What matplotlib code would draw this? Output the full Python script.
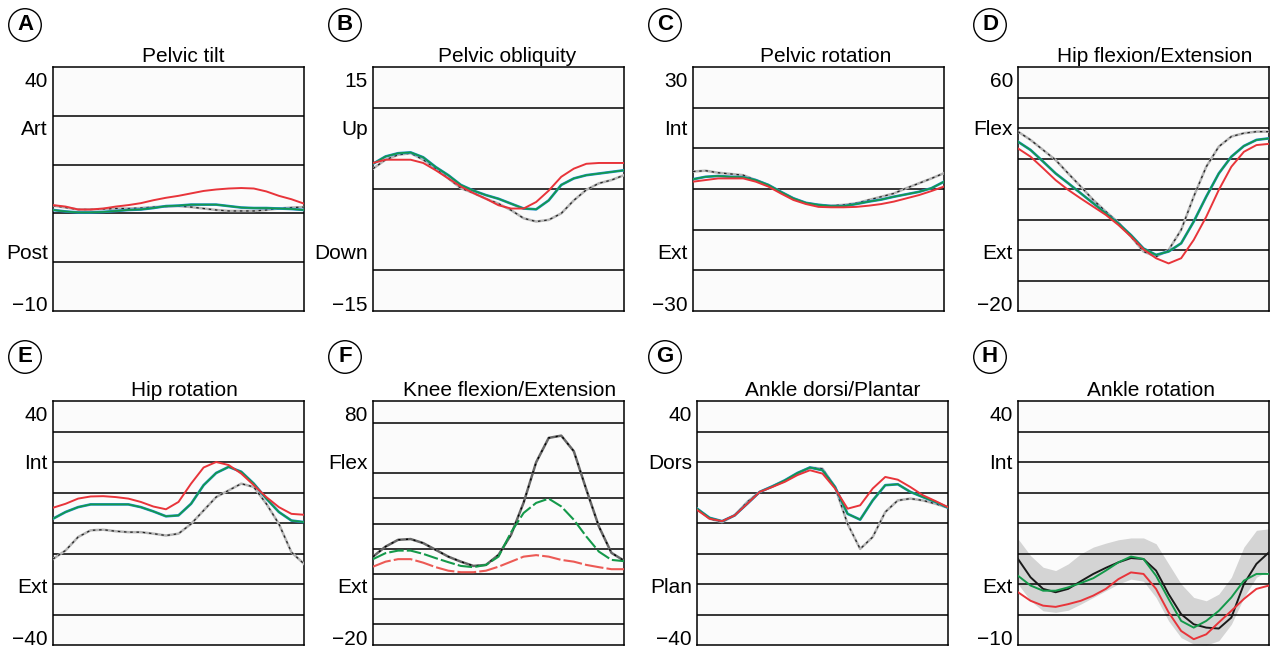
import numpy as np
import matplotlib
matplotlib.use('Agg')
import matplotlib.pyplot as plt

plt.rcParams['font.family'] = ['Liberation Sans', 'DejaVu Sans']

# % del ciclo de marcha
gait = list(range(0, 101, 5))

# A - Pelvic tilt
red_a = [11.7, 11.4, 10.8, 10.8, 11.0, 11.4, 11.7, 12.1, 12.7, 13.2, 13.6, 14.1, 14.6, 14.9, 15.1, 15.2, 15.1, 14.5, 13.6, 12.9, 12.0]
green_a = [10.7, 10.4, 10.2, 10.2, 10.3, 10.5, 10.7, 10.8, 11.1, 11.5, 11.6, 11.8, 11.8, 11.8, 11.5, 11.2, 11.1, 11.1, 11.0, 10.9, 10.7]
norm_a = [11.6, 11.2, 10.8, 10.8, 10.9, 11.0, 11.0, 11.1, 11.3, 11.4, 11.5, 11.3, 11.0, 10.7, 10.5, 10.5, 10.5, 10.7, 11.0, 11.2, 11.3]

# B - Pelvic obliquity
red_b = [3.2, 3.6, 3.6, 3.6, 3.2, 2.3, 1.3, 0.3, -0.5, -1.2, -2.0, -2.4, -2.4, -1.6, -0.2, 1.5, 2.5, 3.1, 3.2, 3.2, 3.2]
green_b = [3.1, 4.0, 4.4, 4.5, 3.9, 2.7, 1.7, 0.5, -0.2, -0.75, -1.2, -1.8, -2.4, -2.5, -1.4, 0.5, 1.3, 1.7, 1.9, 2.1, 2.3]
norm_b = [2.5, 3.6, 4.2, 4.4, 3.6, 2.5, 1.3, 0.1, -0.5, -1.2, -1.8, -2.6, -3.6, -4.0, -3.8, -3.0, -1.4, -0.1, 0.7, 1.1, 1.7]

# C - Pelvic rotation
red_c = [1.8, 2.2, 2.6, 2.6, 2.6, 1.8, 0.6, -1.1, -2.7, -3.7, -4.4, -4.5, -4.5, -4.4, -4.1, -3.7, -3.1, -2.3, -1.5, -0.5, 0.6]
green_c = [2.4, 3.0, 3.2, 3.0, 2.9, 2.2, 1.0, -0.7, -2.3, -3.4, -3.9, -4.2, -4.2, -3.7, -3.1, -2.6, -1.9, -1.3, -0.7, 0.2, 1.8]
norm_c = [4.3, 4.5, 4.0, 3.7, 3.4, 2.2, 1.0, -0.7, -2.3, -3.5, -3.9, -4.1, -3.9, -3.5, -2.7, -1.9, -1.1, 0.2, 1.4, 2.6, 3.9]

# D - Hip flexion/Extension
red_d = [33.3, 30.6, 26.8, 22.9, 19.7, 16.9, 14.2, 11.5, 8.2, 4.4, 0.2, -2.7, -4.4, -2.7, 3.3, 10.9, 19.7, 27.3, 32.2, 34.4, 34.8]
green_d = [35.5, 32.8, 29.0, 25.1, 21.9, 18.6, 15.3, 12.0, 8.7, 4.9, 0.5, -1.6, -0.5, 2.2, 9.3, 17.5, 25.1, 30.6, 34.1, 36.1, 36.6]
norm_d = [38.8, 36.1, 32.8, 29.5, 25.1, 20.8, 16.4, 12.6, 9.0, 4.4, -0.5, -2.2, 0.0, 6.6, 17.5, 27.3, 33.9, 37.2, 38.3, 38.8, 38.8]

# E - Hip rotation
red_e = [5.0, 6.3, 8.0, 8.7, 8.8, 8.5, 8.0, 6.9, 5.4, 4.5, 6.9, 12.9, 18.2, 20.0, 19.0, 16.2, 12.4, 8.5, 5.2, 3.0, 2.7]
green_e = [1.4, 3.6, 5.2, 6.1, 6.1, 6.1, 6.1, 5.2, 3.8, 2.2, 2.5, 6.3, 12.4, 16.4, 18.4, 16.8, 12.9, 8.0, 3.6, 0.8, 0.3]
norm_e = [-11.8, -9.0, -4.6, -2.4, -2.2, -2.7, -3.0, -3.0, -3.5, -4.1, -3.5, -0.3, 4.1, 8.5, 10.7, 12.9, 11.8, 6.3, -0.3, -9.6, -13.4]

# F - Knee flexion/Extension
red_f = [12.8, 14.8, 15.8, 15.8, 14.4, 12.6, 11.2, 10.6, 10.6, 11.2, 12.8, 14.8, 16.8, 17.4, 16.8, 15.5, 14.8, 13.5, 12.6, 11.8, 11.8]
green_f = [15.8, 18.2, 19.2, 19.2, 17.9, 16.2, 14.6, 13.1, 12.6, 13.5, 16.8, 26.5, 34.2, 38.2, 39.9, 36.8, 31.5, 24.8, 18.8, 15.5, 15.0]
norm_f = [16.8, 20.8, 23.5, 23.8, 22.2, 19.5, 16.8, 14.8, 13.1, 13.5, 17.5, 25.5, 38.3, 54.4, 64.1, 65.0, 58.8, 43.5, 28.8, 18.3, 15.2]

# G - Ankle dorsi/Plantar
red_g = [4.3, 1.4, 0.6, 2.5, 6.3, 10.2, 11.8, 13.5, 15.7, 17.3, 16.2, 11.3, 4.7, 5.8, 11.3, 15.1, 14.2, 11.8, 9.1, 7.2, 5.2]
green_g = [4.7, 1.7, 0.6, 2.5, 6.3, 10.2, 12.0, 14.0, 16.4, 18.2, 17.3, 11.8, 3.0, 1.1, 7.4, 12.4, 12.7, 10.2, 8.5, 6.9, 5.0]
norm_g = [4.7, 1.4, 0.3, 2.5, 6.9, 10.2, 12.0, 13.8, 16.2, 18.2, 17.8, 11.8, -0.3, -8.5, -4.6, 3.6, 7.4, 8.0, 7.4, 6.3, 5.0]

# H - Ankle rotation
red_h = [-22.7, -25.5, -27.1, -27.5, -26.6, -25.5, -23.8, -21.6, -18.4, -16.2, -16.7, -21.6, -29.3, -35.4, -38.1, -36.5, -32.6, -28.8, -24.9, -21.6, -20.5]
green_h = [-17.3, -20.5, -22.2, -22.2, -21.1, -19.7, -18.1, -15.6, -12.9, -11.0, -11.8, -17.3, -24.9, -32.1, -34.3, -32.1, -28.8, -24.4, -18.9, -16.7, -16.7]
norm_h = [-11.8, -17.8, -21.6, -22.7, -21.6, -19.1, -16.7, -14.7, -12.9, -11.5, -11.8, -15.6, -23.3, -29.9, -33.2, -34.3, -34.6, -31.0, -20.0, -13.4, -9.6]
band_hi_h = [-5.2, -10.7, -14.5, -15.6, -13.4, -10.1, -7.9, -6.6, -5.5, -4.9, -4.9, -6.8, -13.4, -20.0, -24.4, -25.5, -23.3, -17.8, -7.9, -2.4, -1.9]
band_lo_h = [-20.0, -25.5, -28.8, -29.3, -28.6, -26.6, -24.4, -22.2, -20.0, -18.4, -19.1, -24.4, -32.1, -37.6, -39.7, -40.0, -38.6, -33.2, -24.4, -17.8, -15.6]

letters = ['A', 'B', 'C', 'D', 'E', 'F', 'G', 'H']
titles = ['Pelvic tilt', 'Pelvic obliquity', 'Pelvic rotation', 'Hip flexion/Extension',
          'Hip rotation', 'Knee flexion/Extension', 'Ankle dorsi/Plantar', 'Ankle rotation']
tick_texts = [['40', 'Art', 'Post', '\u221210'],
              ['15', 'Up', 'Down', '\u221215'],
              ['30', 'Int', 'Ext', '\u221230'],
              ['60', 'Flex', 'Ext', '\u221220'],
              ['40', 'Int', 'Ext', '\u221240'],
              ['80', 'Flex', 'Ext', '\u221220'],
              ['40', 'Dors', 'Plan', '\u221240'],
              ['40', 'Int', 'Ext', '\u221210']]
ylims = [(-10, 40), (-15, 15), (-30, 30), (-20, 60), (-40, 40), (-18.4, 78.8), (-40, 40), (-40, 40)]
grid_vals = [[30, 20, 10, 0], [10, 0, -10], [20, 10, 0, -10, -20],
             [50, 40, 30, 20, 10, 0, -10], [30, 20, 10, 0, -10, -20, -30],
             [70, 50, 40, 30, 20, 10, 0, -10], [30, 20, 10, 0, -10, -20, -30],
             [30, 20, 10, 0, -10, -20, -30]]
reds = [red_a, red_b, red_c, red_d, red_e, red_f, red_g, red_h]
greens = [green_a, green_b, green_c, green_d, green_e, green_f, green_g, green_h]
norms = [norm_a, norm_b, norm_c, norm_d, norm_e, norm_f, norm_g, norm_h]

W, H = 1273, 648
fig = plt.figure(figsize=(W / 100, H / 100), dpi=100)

lefts = [53, 373, 693, 1018, 53, 373, 697, 1018]
tops = [67, 67, 67, 67, 401, 401, 401, 401]
title_x = [0.52, 0.535, 0.53, 0.545, 0.525, 0.545, 0.54, 0.53]
circ_x = [25, 345, 665, 990, 25, 345, 665, 990]
circ_y = [25, 25, 25, 25, 357, 357, 357, 357]

RED = '#e8343a'
GREEN = '#14994a'
BLUE = '#1c8ccc'

for i in range(8):
    ax = fig.add_axes([lefts[i] / W, 1 - (tops[i] + 244) / H, 251 / W, 244 / H])
    ax.set_facecolor('#fbfbfb')
    ax.set_xlim(0, 100)
    ax.set_ylim(*ylims[i])
    ax.set_xticks([])
    ax.set_yticks([])
    for s in ax.spines.values():
        s.set_linewidth(1.1)
        s.set_color('black')
    for g in grid_vals[i]:
        ax.axhline(g, color='black', lw=1.1, zorder=1)

    if i == 7:
        ax.fill_between(gait, band_lo_h, band_hi_h, color='#d4d4d4', lw=0, zorder=0.5)

    # curva normal
    if i == 7:
        ax.plot(gait, norms[i], color='#1a1a1a', lw=1.4, zorder=3)
    elif i == 5:
        ax.plot(gait, norms[i], color='#666666', lw=1.8, zorder=3)
        ax.plot(gait, norms[i], color='black', lw=1.0, ls=(0, (1.5, 4)), zorder=3)
    else:
        ax.plot(gait, norms[i], color='#b5b5b5', lw=1.8, zorder=3)
        ax.plot(gait, norms[i], color='#222222', lw=0.9, ls=(0, (2, 3)), zorder=3)

    if i == 5:
        ax.plot(gait, greens[i], color=GREEN, lw=1.5, ls=(0, (7, 1.5)), zorder=4)
        ax.plot(gait, reds[i], color='#ec5a55', lw=1.5, ls=(0, (9, 1.5)), zorder=4)
    elif i == 7:
        ax.plot(gait, greens[i], color=GREEN, lw=1.4, zorder=4)
        ax.plot(gait, reds[i], color=RED, lw=1.4, zorder=4)
    else:
        ax.plot(gait, greens[i], color=BLUE, lw=1.9, zorder=4)
        ax.plot(gait, greens[i], color=GREEN, lw=1.2, zorder=4)
        ax.plot(gait, reds[i], color=RED, lw=1.4, zorder=5)

    # etiquetas del eje y
    for txt, yf in zip(tick_texts[i], [0.918, 0.72, 0.212, 0.0]):
        ax.text(-0.02, yf, txt, transform=ax.transAxes, ha='right', va='baseline',
                fontsize=15, color='black')

    ax.text(title_x[i], 1.022, titles[i], transform=ax.transAxes, ha='center',
            va='baseline', fontsize=15, color='black')

    fig.text(circ_x[i] / W, 1 - circ_y[i] / H, letters[i], ha='center', va='center',
             fontsize=16, fontweight='bold',
             bbox=dict(boxstyle='circle,pad=0.26', fc='white', ec='black', lw=1.0))

fig.savefig('out.png', dpi=100)
